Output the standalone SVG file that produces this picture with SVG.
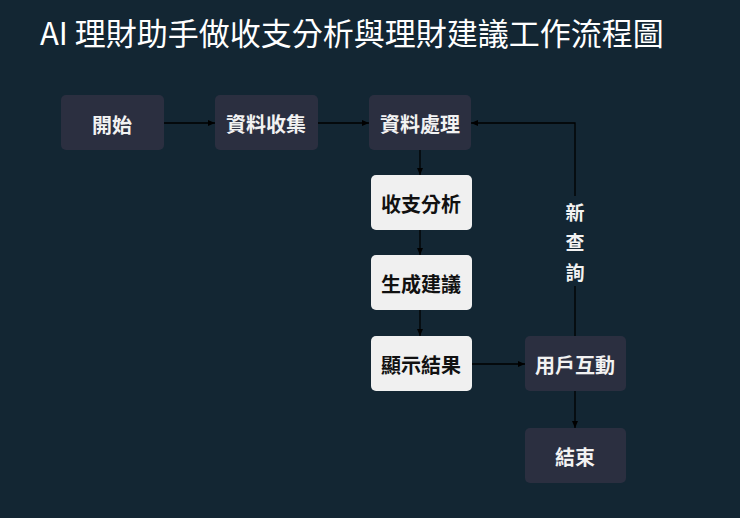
<svg xmlns="http://www.w3.org/2000/svg" width="740" height="518" viewBox="0 0 740 518">
<defs>
<marker id="ah" markerWidth="8" markerHeight="8" refX="7" refY="4" orient="auto" markerUnits="userSpaceOnUse"><path d="M0,1 L7,4 L0,7 z" fill="#000"/></marker>
<style>
text{font-family:"Noto Sans CJK TC","Noto Sans CJK SC",sans-serif;font-weight:bold;text-anchor:middle;dominant-baseline:central}
.d rect{fill:#2b2f40}
.d text{fill:#f2f2f2;font-size:20px}
.l rect{fill:#f0f0f0}
.l text{fill:#111;font-size:20px}
.c{stroke:#000;stroke-width:1.3;fill:none;marker-end:url(#ah)}
</style>
</defs>
<rect width="740" height="518" fill="#132633"/>
<text x="40" y="31" style="text-anchor:start;font-size:31px;font-weight:normal;fill:#fff">AI 理財助手做收支分析與理財建議工作流程圖</text>
<g id="connectors">
<path class="c" d="M164,123 H215"/>
<path class="c" d="M318,123 H369"/>
<path class="c" d="M420,150 V175"/>
<path class="c" d="M420,230 V255"/>
<path class="c" d="M420,310 V336"/>
<path class="c" d="M472,364 H525"/>
<path class="c" d="M575,391 V428"/>
<path class="c" d="M575,336 V123 H471"/>
<rect x="560" y="196" width="30" height="90" fill="#132633"/>
<text x="575" y="211" style="fill:#f2f2f2;font-size:19px">新</text>
<text x="575" y="241" style="fill:#f2f2f2;font-size:19px">查</text>
<text x="575" y="271" style="fill:#f2f2f2;font-size:19px">詢</text>
</g>
<g id="start" class="d"><rect x="61" y="95" width="103" height="55" rx="5"/><text x="112" y="124">開始</text></g>
<g id="collect" class="d"><rect x="215" y="95" width="103" height="55" rx="5"/><text x="266" y="123">資料收集</text></g>
<g id="process" class="d"><rect x="369" y="95" width="102" height="55" rx="5"/><text x="420" y="123">資料處理</text></g>
<g id="analyze" class="l"><rect x="371" y="175" width="101" height="55" rx="5"/><text x="421" y="203">收支分析</text></g>
<g id="suggest" class="l"><rect x="371" y="255" width="101" height="55" rx="5"/><text x="421" y="283">生成建議</text></g>
<g id="show" class="l"><rect x="371" y="336" width="101" height="55" rx="5"/><text x="421" y="364">顯示結果</text></g>
<g id="interact" class="d"><rect x="525" y="336" width="101" height="55" rx="5"/><text x="575" y="364">用戶互動</text></g>
<g id="end" class="d"><rect x="525" y="428" width="101" height="55" rx="5"/><text x="575" y="456">結束</text></g>
</svg>
